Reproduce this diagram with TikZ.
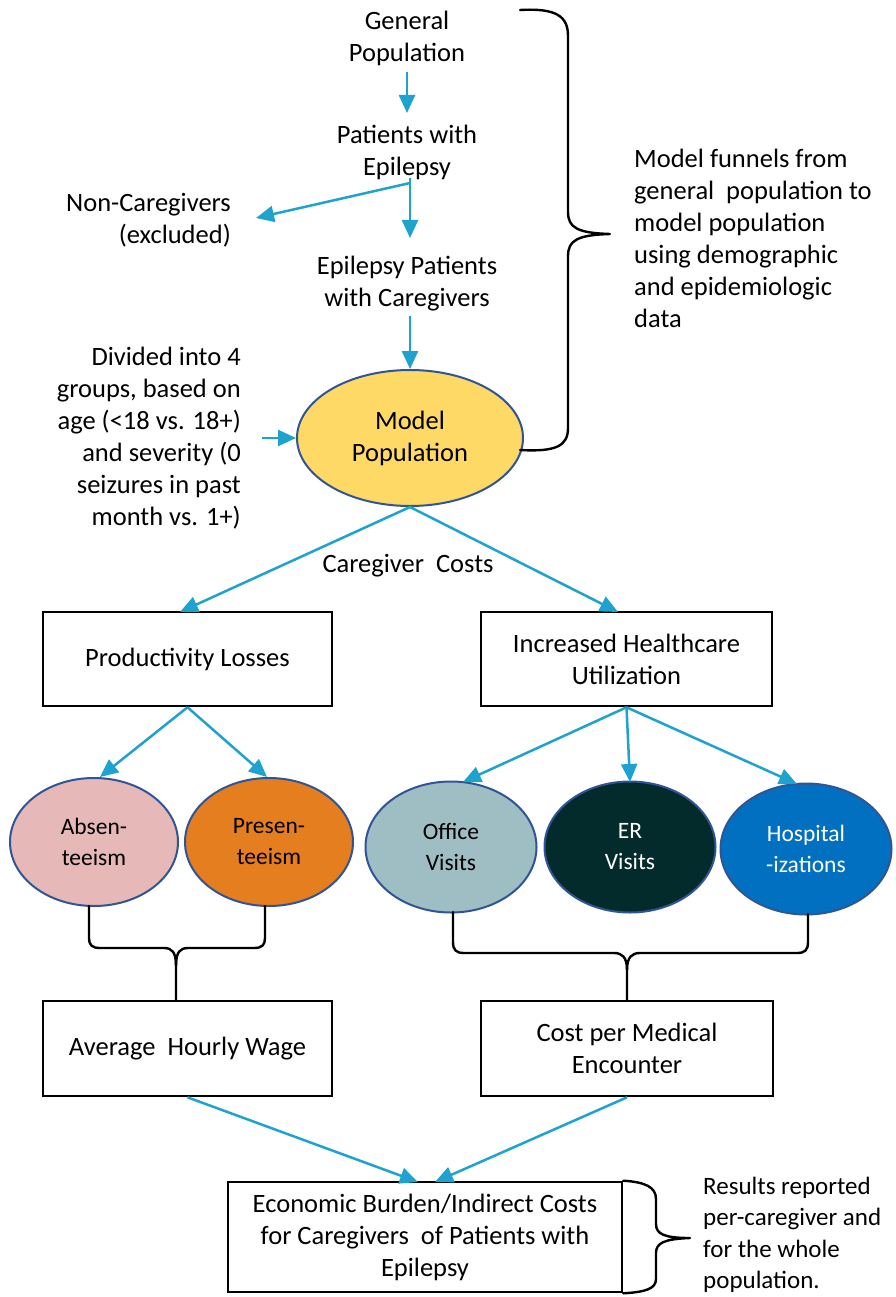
\documentclass[tikz,border=0pt]{standalone}
\usepackage{fontspec}
\setmainfont{Carlito}
\usetikzlibrary{arrows.meta,shapes.geometric}
\definecolor{arrowc}{RGB}{30,162,206}
\definecolor{ellb}{RGB}{47,85,151}
\definecolor{modelc}{RGB}{255,217,102}
\definecolor{absc}{RGB}{230,184,183}
\definecolor{prec}{RGB}{228,126,30}
\definecolor{offc}{RGB}{158,190,196}
\definecolor{erc}{RGB}{3,43,43}
\definecolor{hosc}{RGB}{2,112,192}
\tikzset{
  txt/.style={font=\fontsize{26.5}{32}\selectfont, inner sep=0pt, align=center},
  flow/.style={draw=arrowc, line width=2.5pt, -{Triangle[length=18pt,width=16pt]}},
  boxn/.style={draw=black, line width=2.6pt, fill=white, inner sep=0pt, align=center, font=\fontsize{26.5}{32}\selectfont},
  ell/.style={ellipse, draw=ellb, line width=2pt, inner sep=0pt, align=center, font=\fontsize{23.5}{31}\selectfont},
  brc/.style={draw=black, line width=2.4pt, line cap=round, line join=round}
}
\begin{document}
\begin{tikzpicture}[x=1pt,y=-1pt]
\useasboundingbox[fill=white] (0,0) rectangle (895,1297);

% top funnel
\node[txt] (gp) at (407,38) {General\\Population};
\node[txt] (pe) at (407,152) {Patients with\\Epilepsy};
\node[txt] (ep) at (407,284) {Epilepsy Patients\\with Caregivers};
\node[txt, anchor=east, align=right] (nc) at (231,220) {Non-Caregivers\\(excluded)};
\coordinate (j1) at (410,183);
\coordinate (nce) at (256,218);
\coordinate (gpb) at (407,72);
\coordinate (peb) at (410,238);
\coordinate (ept) at (410,316);
\coordinate (divr) at (262,438);

\node[ell, fill=modelc, minimum width=226pt, minimum height=136pt, font=\fontsize{26.5}{32}\selectfont] (mp) at (410,438) {Model\\Population};
\node[txt, anchor=east, align=right] (div) at (241,438) {Divided into 4\\groups, based on\\age (<18 vs. 18+)\\and severity (0\\seizures in past\\month vs. 1+)};
\node[txt, anchor=west, align=left] (mf) at (634,238) {Model funnels from\\general\ \ population to\\model population\\using demographic\\and epidemiologic\\data};

\draw[flow] (gpb) -- (407,113);
\draw[draw=arrowc, line width=2.5pt] (410,178) -- (j1);
\draw[flow] (j1) -- (peb);
\draw[flow] (j1) -- (nce);
\draw[flow] (ept) -- (mp.north);
\draw[flow] (divr) -- (mp.west);

% right brace
\draw[brc] (520,10) .. controls (556,8) and (568,16) .. (568,36) -- (568,212)
  .. controls (568,228) and (578,233) .. (610,234)
  .. controls (578,235) and (568,240) .. (568,256) -- (568,428)
  .. controls (568,446) and (556,452) .. (520,450);

% caregiver costs
\node[txt] (cc) at (408,566) {Caregiver\ \ Costs};
\node[boxn, minimum width=289pt, minimum height=94pt] (pl) at (187.5,659) {Productivity Losses};
\node[boxn, minimum width=291pt, minimum height=94pt] (hu) at (626.5,659) {Increased Healthcare\\Utilization};
\draw[flow] (mp.south) -- (180,612);
\draw[flow] (mp.south) -- (618,612);

% ellipses
\node[ell, fill=absc, minimum width=168pt, minimum height=128pt] (ab) at (94,842) {Absen-\\teeism};
\node[ell, fill=prec, minimum width=168pt, minimum height=128pt] (pr) at (269,842) {Presen-\\teeism};
\node[ell, fill=offc, minimum width=171pt, minimum height=131pt] (of) at (451,847) {Office\\Visits};
\node[ell, fill=erc, text=white, minimum width=171pt, minimum height=131pt] (er) at (630,847) {ER\\Visits};
\node[ell, fill=hosc, text=white, minimum width=171pt, minimum height=131pt] (ho) at (806,849) {Hospital\\-izations};

\draw[flow] (pl.south) -- (100,777);
\draw[flow] (pl.south) -- (267,777);
\draw[flow] (hu.south) -- (463,782);
\draw[flow] (hu.south) -- (630,782);
\draw[flow] (hu.south) -- (797,784);

% bottom boxes
\node[boxn, minimum width=289pt, minimum height=95pt] (aw) at (187.5,1048.5) {Average\ \ Hourly Wage};
\node[boxn, minimum width=292pt, minimum height=95pt] (cm) at (627,1048.5) {Cost per Medical\\Encounter};

% left lower bracket
\draw[brc] (89,906) -- (89,938) .. controls (89,945) and (92,948) .. (100,948) -- (164,948)
  .. controls (172,948) and (176,952) .. (176,966) -- (176,1001);
\draw[brc] (265,906) -- (265,938) .. controls (265,945) and (262,948) .. (254,948) -- (188,948)
  .. controls (180,948) and (176,952) .. (176,966);
% right lower bracket
\draw[brc] (453,912) -- (453,942) .. controls (453,950) and (456,953) .. (464,953) -- (614,953)
  .. controls (622,953) and (627,957) .. (627,970) -- (cm.north);
\draw[brc] (808,914) -- (808,942) .. controls (808,950) and (805,953) .. (797,953) -- (640,953)
  .. controls (632,953) and (627,957) .. (627,970);

% economic box
\node[boxn, minimum width=394pt, minimum height=110pt] (eb) at (425,1237) {Economic Burden/Indirect Costs\\for Caregivers\ \ of Patients with\\Epilepsy};
\draw[flow] (aw.south) -- (418,1182);
\draw[flow] (cm.south) -- (435,1182);
\draw[brc] (eb.north east) .. controls (645,1182) and (656,1187) .. (656,1199) -- (656,1224)
  .. controls (656,1234) and (664,1238) .. (690,1238)
  .. controls (664,1239) and (656,1243) .. (656,1253) -- (656,1279)
  .. controls (656,1289) and (645,1292) .. (eb.south east);
\node[txt, anchor=west, align=left, font=\fontsize{25}{31.5}\selectfont] (rr) at (703,1235) {Results reported\\per-caregiver and\\for the whole\\population.};
\end{tikzpicture}
\end{document}
